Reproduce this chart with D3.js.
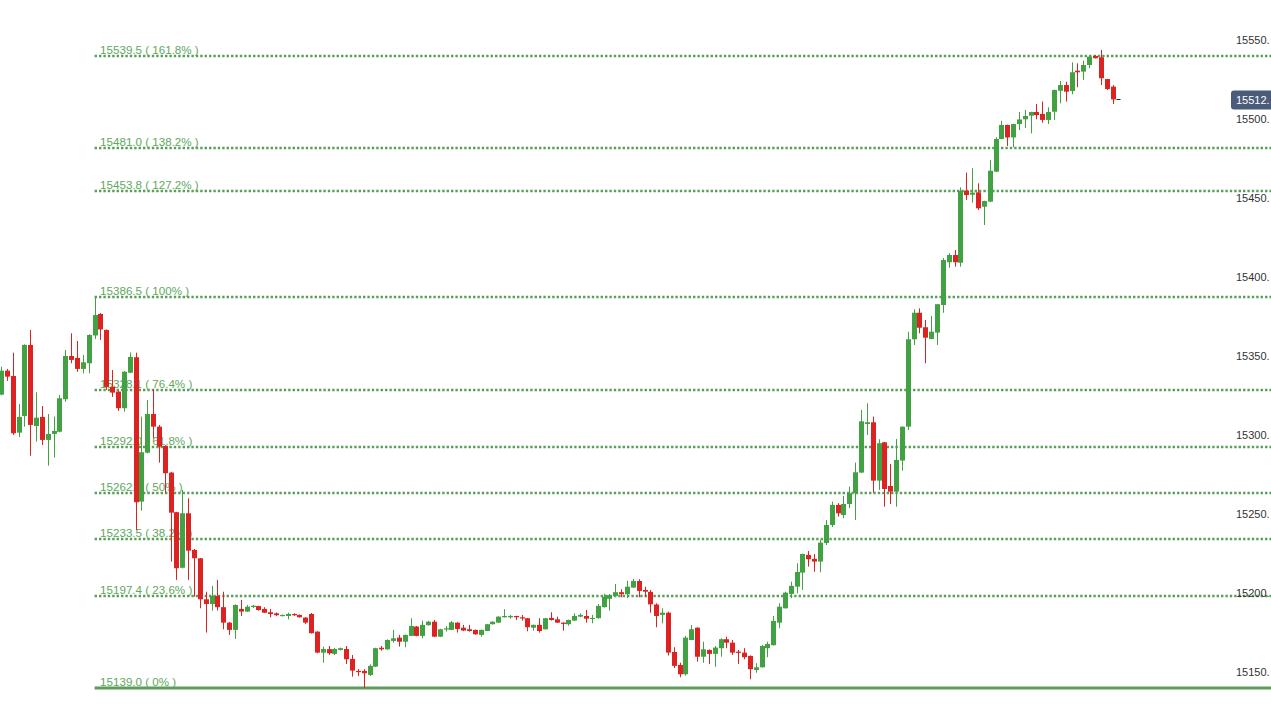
<!DOCTYPE html>
<html><head><meta charset="utf-8">
<script src="https://cdn.jsdelivr.net/npm/d3@7"></script>
<style>html,body{margin:0;padding:0;background:#fff;overflow:hidden}svg{display:block}</style>
</head><body><svg id="c" width="1271" height="714"></svg>
<script>
// ---- DATA ----
const opens=[15324.9,15340.1,15336.7,15300.8,15311.4,15356.4,15305.0,15310.8,15296.2,15300.0,
15301.4,15322.0,15349.4,15348.2,15341.2,15344.8,15362.4,15376.0,15365.9,15329.8,
15326.8,15316.3,15338.8,15348.6,15257.1,15288.1,15312.6,15304.6,15292.4,15275.5,
15250.4,15215.2,15249.7,15226.5,15221.2,15195.2,15192.2,15197.3,15190.2,15180.4,
15175.8,15189.1,15187.4,15190.5,15190.9,15189.1,15187.0,15186.3,15184.6,15184.6,
15185.9,15185.3,15183.6,15185.9,15174.7,15161.4,15163.6,15160.6,15163.1,15163.7,
15157.4,15149.8,15149.8,15147.3,15152.5,15164.5,15163.5,15168.8,15170.9,15168.3,
15172.0,15177.9,15172.0,15178.8,15181.0,15171.5,15176.2,15175.8,15180.4,15177.2,
15176.2,15175.8,15172.6,15175.1,15179.4,15180.4,15183.8,15183.8,15184.6,15183.8,
15183.2,15177.2,15179.0,15176.2,15183.4,15182.5,15180.4,15179.4,15181.7,15184.2,
15184.6,15182.9,15183.2,15190.2,15195.5,15197.3,15199.7,15198.4,15202.6,15206.8,
15201.1,15199.9,15191.9,15185.3,15186.7,15161.8,15153.6,15147.7,15169.4,15177.2,
15158.8,15163.1,15160.6,15164.2,15169.9,15167.7,15162.0,15161.4,15159.3,15150.4,
15152.1,15164.2,15166.1,15180.4,15189.5,15198.6,15203.2,15212.1,15223.3,15220.8,
15219.1,15230.9,15242.3,15255.0,15248.6,15255.6,15262.4,15275.5,15306.3,15307.4,
15270.4,15294.7,15267.0,15263.4,15283.1,15304.6,15360.0,15376.8,15367.6,15360.2,
15364.2,15381.7,15408.8,15413.4,15408.5,15454.2,15451.6,15453.1,15444.0,15447.2,
15466.2,15486.9,15495.8,15487.9,15496.4,15499.4,15501.7,15504.0,15502.8,15499.0,
15504.2,15517.5,15521.1,15517.3,15530.2,15529.6,15533.8,15539.5,15538.7,15524.9,
15520.1];
const highs=[15342.6,15341.2,15351.5,15319.0,15356.8,15365.9,15326.4,15317.7,15312.6,15311.0,
15324.7,15353.2,15363.8,15358.9,15350.0,15363.2,15386.5,15376.6,15366.2,15340.5,
15327.2,15339.8,15351.6,15351.5,15311.0,15321.5,15328.3,15305.7,15292.8,15276.0,
15250.6,15264.5,15259.2,15227.1,15221.4,15200.0,15203.7,15207.5,15200.0,15180.8,
15192.0,15194.8,15191.6,15191.6,15191.1,15190.2,15189.1,15186.8,15185.5,15186.7,
15186.3,15185.6,15184.0,15186.5,15175.0,15165.2,15165.6,15164.4,15164.6,15165.6,
15159.9,15151.0,15150.9,15154.0,15164.5,15165.6,15169.8,15175.8,15172.6,15172.9,
15183.2,15178.3,15181.7,15181.5,15182.1,15176.5,15178.3,15181.4,15180.7,15179.0,
15179.0,15176.0,15176.0,15179.6,15181.2,15184.4,15188.9,15185.3,15184.8,15185.3,
15183.4,15179.2,15183.2,15183.4,15187.0,15184.2,15180.6,15182.3,15186.3,15186.3,
15188.4,15185.3,15192.2,15198.6,15198.6,15204.9,15201.6,15207.0,15208.1,15207.9,
15203.2,15201.1,15192.7,15189.5,15187.4,15164.8,15155.0,15172.0,15178.9,15177.4,
15168.3,15163.4,15165.6,15170.5,15171.5,15169.4,15163.1,15164.2,15159.6,15154.7,
15166.3,15168.3,15184.6,15192.7,15200.0,15206.4,15218.0,15224.2,15225.8,15223.9,
15232.8,15245.5,15257.1,15256.1,15260.7,15266.6,15281.8,15315.2,15319.4,15311.0,
15296.6,15294.9,15281.0,15296.8,15304.8,15364.8,15379.0,15379.6,15372.2,15374.8,
15382.4,15411.5,15414.5,15416.6,15456.3,15465.6,15468.4,15458.8,15447.8,15473.6,
15488.0,15498.5,15496.0,15496.6,15504.0,15505.3,15504.2,15509.1,15510.6,15507.0,
15518.2,15523.7,15523.2,15535.5,15534.9,15536.5,15540.1,15540.1,15543.3,15525.0,
15521.1];
const lows=[15324.5,15333.6,15299.3,15298.0,15304.6,15286.2,15295.1,15293.0,15279.9,15285.0,
15301.0,15320.4,15344.8,15339.4,15338.4,15338.4,15360.2,15359.5,15327.9,15323.4,
15314.6,15314.1,15338.5,15239.1,15251.4,15287.7,15297.3,15281.8,15262.4,15219.1,
15207.5,15214.8,15207.5,15196.9,15189.5,15174.1,15188.0,15188.0,15176.2,15172.6,
15170.1,15184.6,15187.2,15189.7,15188.0,15186.5,15183.8,15184.5,15184.3,15182.5,
15184.6,15183.5,15179.6,15173.5,15161.0,15155.0,15160.0,15159.9,15162.8,15154.2,
15146.2,15146.6,15139.0,15146.6,15152.3,15162.6,15163.2,15167.7,15165.2,15164.8,
15171.8,15171.7,15170.5,15178.5,15171.3,15171.2,15174.7,15175.6,15174.1,15175.0,
15174.7,15172.8,15171.5,15175.0,15179.2,15180.2,15183.6,15182.9,15182.1,15181.7,
15174.9,15175.3,15174.1,15176.0,15181.7,15180.2,15175.3,15178.5,15181.5,15183.8,
15180.4,15180.0,15183.0,15190.0,15188.0,15196.9,15196.5,15195.9,15202.4,15196.5,
15196.7,15186.7,15177.5,15180.0,15159.6,15151.6,15145.8,15146.8,15169.2,15155.7,
15155.0,15154.2,15152.5,15158.8,15164.2,15159.9,15154.2,15157.2,15144.5,15148.7,
15151.9,15158.5,15165.9,15176.8,15189.3,15195.9,15199.0,15201.1,15215.9,15212.7,
15212.3,15229.6,15241.0,15247.6,15246.6,15252.9,15245.5,15275.3,15299.3,15262.8,
15264.5,15253.9,15255.6,15253.9,15276.7,15302.5,15356.4,15363.8,15344.8,15360.0,
15356.4,15376.8,15405.4,15406.0,15406.0,15448.3,15446.5,15441.9,15432.4,15447.0,
15466.0,15486.7,15482.5,15481.7,15492.6,15493.9,15490.5,15499.4,15497.2,15496.4,
15499.0,15509.5,15510.6,15515.2,15519.7,15524.3,15531.7,15537.9,15521.1,15518.0,
15509.1];
const closes=[15340.1,15336.3,15300.4,15310.8,15356.4,15305.7,15310.3,15296.2,15300.0,15301.9,
15322.6,15349.4,15346.9,15341.2,15345.4,15362.7,15375.4,15366.2,15329.8,15326.2,
15316.3,15339.4,15348.8,15256.7,15288.4,15312.6,15304.6,15291.9,15275.1,15250.1,
15214.9,15249.7,15226.0,15221.2,15195.2,15192.2,15197.3,15190.2,15180.4,15175.8,
15191.6,15187.4,15190.5,15191.1,15188.4,15186.7,15185.9,15185.1,15185.3,15185.9,
15185.1,15183.8,15180.4,15173.7,15161.4,15163.7,15161.0,15163.7,15164.2,15157.2,
15150.0,15149.2,15148.3,15153.0,15164.2,15163.5,15169.4,15170.5,15168.3,15172.6,
15178.3,15172.0,15179.0,15181.0,15171.5,15176.2,15176.8,15180.6,15176.4,15175.4,
15175.1,15173.0,15175.8,15179.4,15181.0,15184.2,15184.6,15184.6,15183.8,15183.2,
15177.5,15179.0,15175.1,15183.2,15182.1,15180.4,15179.6,15182.1,15184.6,15185.3,
15182.9,15183.4,15191.0,15196.9,15197.9,15199.7,15198.4,15203.2,15206.8,15200.5,
15200.0,15192.0,15184.6,15186.7,15161.4,15153.0,15147.7,15170.9,15176.2,15158.8,
15163.5,15160.6,15164.6,15169.9,15167.7,15161.4,15161.4,15158.5,15150.9,15152.1,
15165.6,15166.9,15181.5,15190.5,15199.4,15203.7,15212.5,15223.9,15220.6,15219.1,
15231.1,15242.3,15255.0,15249.7,15255.6,15262.4,15275.7,15308.0,15307.4,15270.4,
15294.1,15265.1,15263.4,15283.5,15304.6,15360.0,15376.8,15367.3,15361.0,15364.8,
15382.2,15410.2,15413.4,15408.8,15454.0,15451.4,15452.9,15443.0,15447.6,15466.8,
15486.9,15495.8,15487.9,15496.4,15499.3,15501.5,15504.0,15502.1,15499.0,15504.0,
15518.0,15521.1,15516.9,15529.2,15529.2,15533.8,15539.1,15538.1,15525.4,15518.6,
15512.0];

const fibRatios=[0,23.6,38.2,50,61.8,76.4,100,127.2,138.2,161.8];
const fibLevels=[15139.0,15197.4,15233.5,15262.8,15292.0,15328.1,15386.5,15453.8,15481.0,15539.5];
const fibStartIndex=16;
const yTickValues=[15150,15200,15250,15300,15350,15400,15450,15500,15550];
const lastPrice=15512.0;

// ---- CHART ----
const W=1271,H=714;
const svg=d3.select("#c");
const n=closes.length;
const x=d3.scaleLinear().domain([0,190]).range([1,1112.5]);
const y=d3.scaleLinear().domain([15122.5,15575]).range([H,0]);
const GREEN="#42a142", RED="#dd2222";
const FIB="#5a9e5a", FIBTXT="#5ea85e";
const bodyW=5;
const FONT="'Liberation Sans',Arial,sans-serif";

// fib lines + labels (under candles)
const fg=svg.append("g");
fibLevels.forEach((lv,k)=>{
  const yy=Math.round(y(lv));
  const solid=fibRatios[k]===0;
  fg.append("line")
    .attr("x1",x(fibStartIndex)).attr("x2",W)
    .attr("y1",yy).attr("y2",yy)
    .attr("stroke",FIB)
    .attr("stroke-width",solid?3:2.5)
    .attr("stroke-dasharray",solid?null:"2.4,2");
  fg.append("text")
    .attr("x",x(fibStartIndex)+5.5).attr("y",yy-2.5)
    .attr("font-family",FONT)
    .attr("font-size",11.6).attr("fill",FIBTXT)
    .text(`${lv.toFixed(1)} ( ${fibRatios[k]}% )`);
});

// candles
const idx=d3.range(n);
const cg=svg.append("g");
cg.selectAll("line.w").data(idx).join("line")
  .attr("class","w")
  .attr("x1",i=>Math.round(x(i))+0.5).attr("x2",i=>Math.round(x(i))+0.5)
  .attr("y1",i=>y(highs[i])).attr("y2",i=>y(lows[i]))
  .attr("stroke",i=>closes[i]>=opens[i]?GREEN:RED)
  .attr("stroke-width",1);
cg.selectAll("rect.b").data(idx).join("rect")
  .attr("class","b")
  .attr("x",i=>Math.round(x(i))-2)
  .attr("width",bodyW)
  .attr("y",i=>y(Math.max(opens[i],closes[i])))
  .attr("height",i=>Math.max(1.2,Math.abs(y(opens[i])-y(closes[i]))))
  .attr("fill",i=>closes[i]>=opens[i]?GREEN:RED);

// last price marker
svg.append("line")
  .attr("x1",Math.round(x(n-1))+3.5).attr("x2",Math.round(x(n-1))+7.5)
  .attr("y1",Math.round(y(lastPrice))+0.5).attr("y2",Math.round(y(lastPrice))+0.5)
  .attr("stroke","#222").attr("stroke-width",1);

// y axis (labels shown as in the reference, trailing digit cut at the frame)
const ax=d3.axisRight(y).tickValues(yTickValues).tickSize(0).tickPadding(0)
  .tickFormat(d=>d.toFixed(0)+".");
const ag=svg.append("g").attr("transform","translate(1236,1)").call(ax);
ag.select(".domain").remove();
ag.selectAll("text").attr("font-family",FONT)
  .attr("font-size",11).attr("fill","#333");

// price box
const py=y(lastPrice);
svg.append("rect").attr("x",1231).attr("y",py-9).attr("width",50).attr("height",19)
  .attr("rx",3).attr("fill","#4b5b7a");
svg.append("text").attr("x",1236).attr("y",py+0.5).attr("dy","0.35em")
  .attr("font-family",FONT)
  .attr("font-size",11).attr("fill","#fff").text(lastPrice.toFixed(0)+".");
</script></body></html>
